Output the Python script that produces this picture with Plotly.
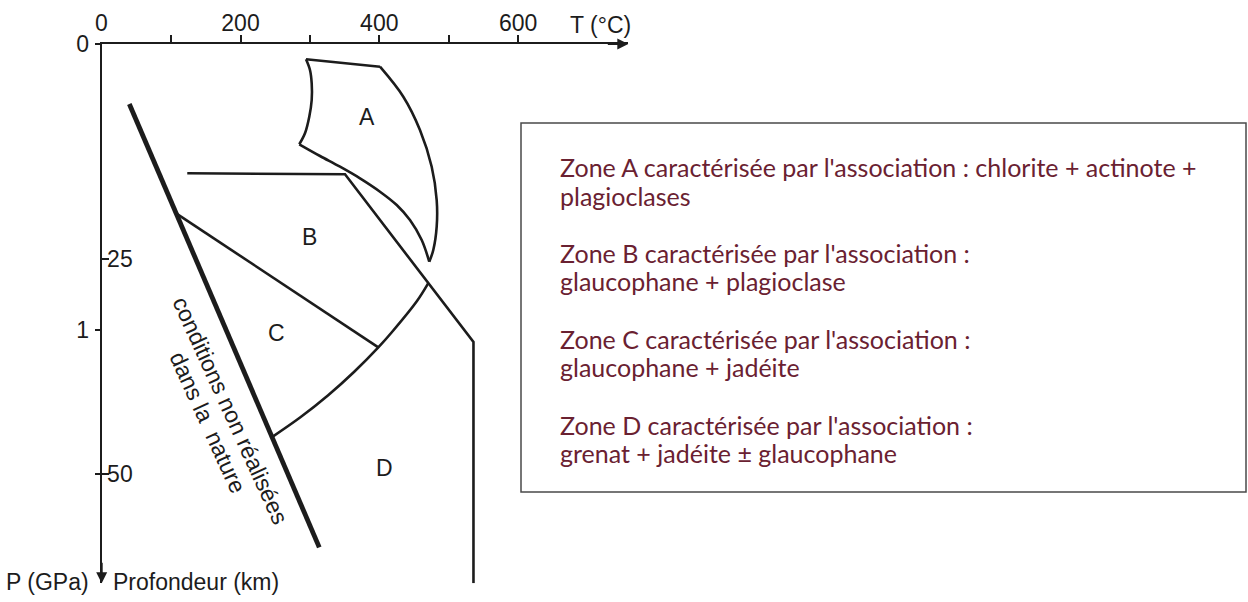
import plotly.graph_objects as go

# ---- axis ticks -------------------------------------------------------------
T_TICKS = [0, 100, 200, 300, 400, 500, 600]
T_LABELS = ["0", "", "200", "", "400", "", "600"]
DEPTH_TICKS = [25, 50]
DEPTH_LABELS = ["25", "50"]
GPA_TICKS = [0, 1]
GPA_LABELS = ["0", "1"]
KM_PER_GPA = 33.26          # 1 GPa sits at ~33 km on the depth scale
T_MAX = 758.8               # end of the temperature arrow (°C)
DEPTH_MAX = 62.7            # end of the depth arrow (km)

# ---- boundaries (T in °C, depth in km) --------------------------------------
# limit of conditions not realised in nature
LIMIT_T = [39.8, 313.5]
LIMIT_D = [6.98, 58.52]

# zone A outline, split into its four sides
A_TOP_T = [294.4, 401.0]
A_TOP_D = [1.78, 2.64]
A_RIGHT_T = [401.0, 434.6, 458.6, 475.5, 482.7, 482.7, 477.8, 472.0]
A_RIGHT_D = [2.64, 6.13, 10.0, 14.27, 18.14, 21.24, 23.95, 25.31]
A_LOW_T = [472.0, 461.1, 444.2, 425.1, 401.0, 372.2, 343.4, 314.6, 284.7]
A_LOW_D = [25.31, 22.79, 20.47, 18.72, 17.17, 15.62, 14.27, 13.02, 11.66]
A_LEFT_T = [284.7, 292.9, 299.1, 302.6, 302.6, 300.1, 294.4]
A_LEFT_D = [11.66, 10.38, 8.45, 6.51, 4.57, 3.02, 1.78]

# upper limit of zone B, then B/D limit and the high-temperature edge
B_EDGE_T = [123.3, 350.6, 535.7, 535.7]
B_EDGE_D = [15.03, 15.15, 34.65, 62.7]

# B / C limit
BC_T = [107.2, 398.6]
BC_D = [19.69, 35.27]

# curved limit B/D then C/D
ARC_T = [470.6, 454.3, 418.0, 398.6, 363.5, 325.9, 286.3, 245.4]
ARC_D = [27.8, 29.88, 33.51, 35.27, 38.14, 40.87, 43.40, 45.70]

# zone labels
ZONE_NAMES = ["A", "B", "C", "D"]
ZONE_T = [382.7, 299.1, 251.2, 408.2]
ZONE_D = [8.45, 22.4, 33.6, 49.3]

LEGEND_LINES = [
    "Zone A caractérisée par l'association : chlorite + actinote +",
    "plagioclases",
    "Zone B caractérisée par l'association :",
    "glaucophane + plagioclase",
    "Zone C caractérisée par l'association :",
    "glaucophane + jadéite",
    "Zone D caractérisée par l'association :",
    "grenat + jadéite ± glaucophane",
]
LEGEND_ROWS_PX = [167, 196, 253, 281, 339, 367, 425, 453]

W, H = 1248, 602
INK = "#1c1c1c"
FONT = "Liberation Sans"


def px(x):
    return x / W


def py(y):
    return 1 - y / H


fig = go.Figure()


def add_line(t, d, width=2.6, shape="linear"):
    fig.add_trace(go.Scatter(
        x=t, y=d, mode="lines",
        line=dict(color=INK, width=width, shape=shape, smoothing=1.0),
        hoverinfo="skip", showlegend=False))


add_line(LIMIT_T, LIMIT_D, width=4.8)
add_line(A_TOP_T, A_TOP_D)
add_line(A_RIGHT_T, A_RIGHT_D, shape="spline")
add_line(A_LOW_T, A_LOW_D, shape="spline")
add_line(A_LEFT_T, A_LEFT_D, shape="spline")
add_line(B_EDGE_T, B_EDGE_D)
add_line(BC_T, BC_D)
add_line(ARC_T, ARC_D, shape="spline")

# GPa scale shares the depth axis through KM_PER_GPA
fig.add_trace(go.Scatter(x=[None], y=[None], yaxis="y2", showlegend=False))


def note(x, y, text, size=23, xanchor="center", angle=0, data=False,
         color=INK, family=FONT):
    fig.add_annotation(x=x, y=y,
                       xref="x" if data else "paper",
                       yref="y" if data else "paper",
                       text=text, showarrow=False, xanchor=xanchor,
                       yanchor="middle", textangle=angle,
                       font=dict(family=family, size=size, color=color))


for name, t, d in zip(ZONE_NAMES, ZONE_T, ZONE_D):
    note(t, d, name, data=True)

# the temperature origin label (hidden by plotly next to inside y labels)
fig.add_annotation(x=T_TICKS[0], y=py(23), xref="x", yref="paper",
                   text=T_LABELS[0], showarrow=False, yanchor="middle",
                   font=dict(family=FONT, size=23, color=INK))

# rotated note along the limit line
note(px(230.8), py(410.8), "conditions non réalisées", angle=65.5)
note(px(208.3), py(422.5), "dans la\u00a0 nature", angle=65.5)

# axis arrowheads
fig.add_annotation(x=T_MAX, y=0, ax=-22, ay=0, text="", showarrow=True,
                   arrowhead=2, arrowsize=1.1, arrowwidth=2, arrowcolor=INK)
fig.add_annotation(x=0, y=DEPTH_MAX, ax=0, ay=-22, text="", showarrow=True,
                   arrowhead=2, arrowsize=1.1, arrowwidth=2, arrowcolor=INK)

# axis titles
note(px(600), py(25), "T (°C)")
note(px(91), py(582), "P (GPa)", xanchor="right")
note(px(111), py(582), "Profondeur (km)", xanchor="left")

# legend box
fig.add_shape(type="rect", xref="paper", yref="paper",
              x0=px(521), x1=px(1246), y0=py(492), y1=py(123),
              line=dict(color="#4a4a4a", width=1.5), fillcolor="white",
              layer="below")
for line, row in zip(LEGEND_LINES, LEGEND_ROWS_PX):
    note(px(558), py(row), line, size=25, xanchor="left",
         color="#6a2131", family="Lato")

axis_font = dict(family=FONT, size=23, color=INK)
fig.update_layout(
    width=W, height=H,
    margin=dict(l=0, r=0, t=0, b=0, autoexpand=False),
    paper_bgcolor="white", plot_bgcolor="white",
    showlegend=False,
    xaxis=dict(domain=[px(101.7), px(628.3)], range=[0, T_MAX], side="top",
               showline=True, linecolor=INK, linewidth=2, showgrid=False,
               zeroline=False, ticks="outside", ticklen=7, tickwidth=1.5,
               tickcolor=INK, tickvals=T_TICKS, ticktext=T_LABELS,
               tickfont=axis_font, ticklabelstandoff=-5, automargin=False),
    yaxis=dict(domain=[py(583.3), py(44)], range=[DEPTH_MAX, 0],
               showline=True, linecolor=INK, linewidth=2, showgrid=False,
               zeroline=False, ticks="inside", ticklen=7, tickwidth=1.5,
               tickcolor=INK, tickvals=DEPTH_TICKS, ticktext=DEPTH_LABELS,
               ticklabelposition="inside", tickfont=axis_font,
               automargin=False),
    yaxis2=dict(overlaying="y", anchor="x", side="left",
                range=[DEPTH_MAX / KM_PER_GPA, 0], showline=False,
                showgrid=False, zeroline=False, ticks="outside", ticklen=6,
                tickwidth=1.5, tickcolor=INK,
                tickvals=GPA_TICKS + [DEPTH_TICKS[1] / KM_PER_GPA],
                ticktext=GPA_LABELS + [""], tickfont=axis_font,
                ticklabelstandoff=1, automargin=False),
)

fig.write_html("out.html")
